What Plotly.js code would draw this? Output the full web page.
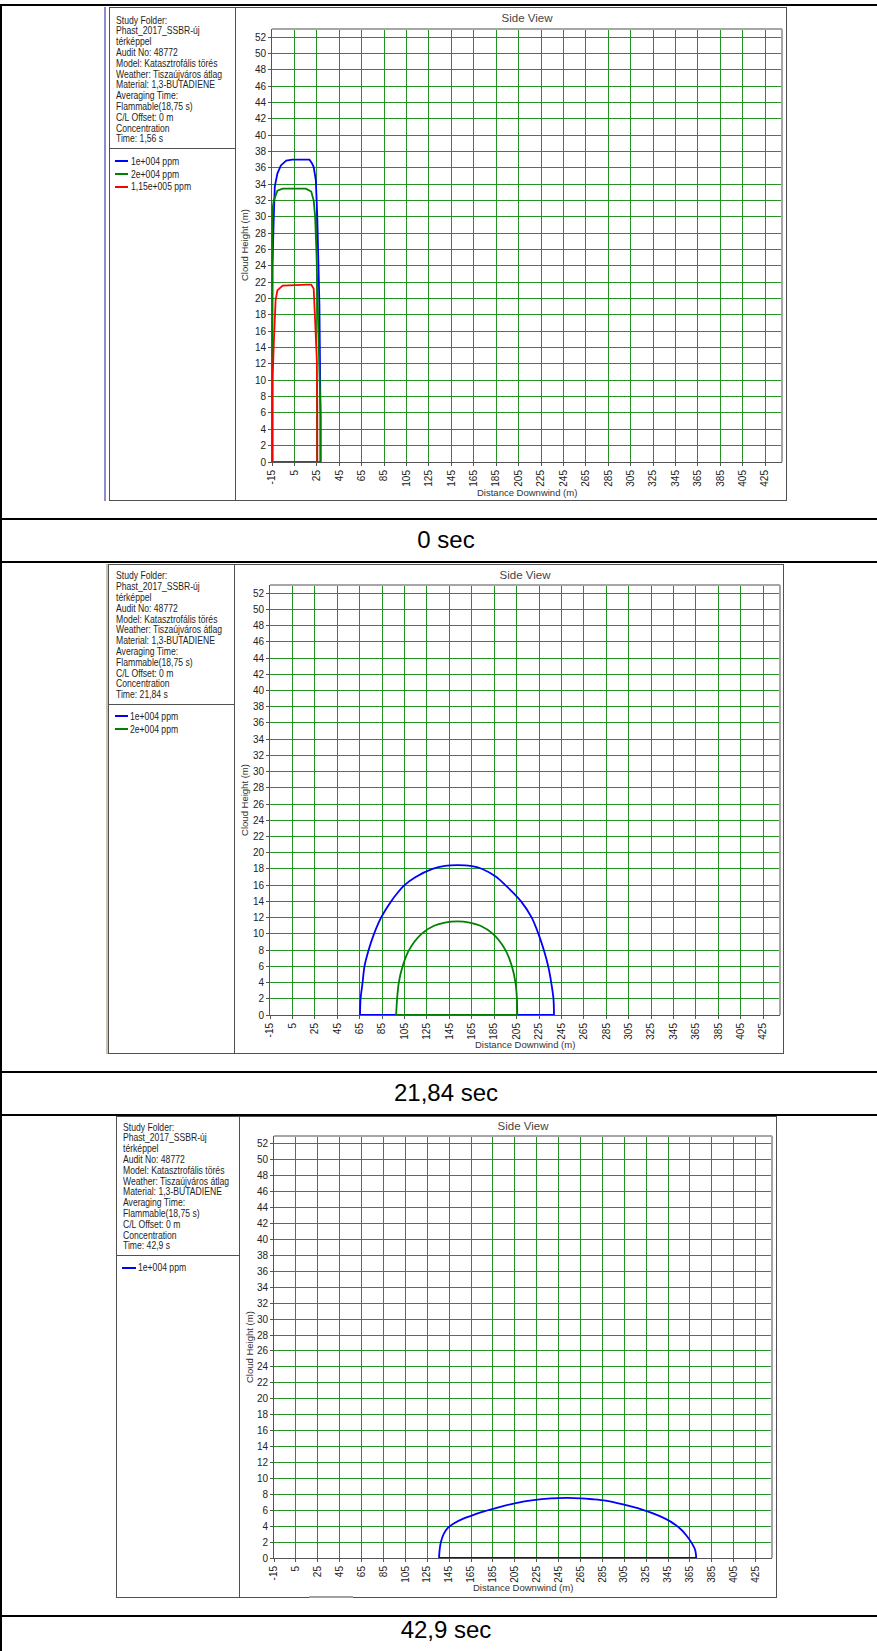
<!DOCTYPE html>
<html><head><meta charset="utf-8">
<script src="https://cdn.plot.ly/plotly-3.0.1.min.js"></script>
<style>
body{margin:0;background:#fff;}
#page{position:relative;width:877px;height:1651px;overflow:hidden;background:#fff;}
.abs{position:absolute;}
.info{position:absolute;font-family:"Liberation Sans",Arial,sans-serif;font-size:10.5px;line-height:10.8px;color:#1e1e1e;white-space:nowrap;transform:scaleX(0.82);transform-origin:0 50%;}
.cap{position:absolute;left:0;width:892px;text-align:center;font-family:"Liberation Sans",Arial,sans-serif;font-size:24px;line-height:28px;color:#000;}
</style></head>
<body><div id="page"></div>
<script>
// ---------------- DATA ----------------
const xTickVals = [-15,5,25,45,65,85,105,125,145,165,185,205,225,245,265,285,305,325,345,365,385,405,425];
const xTickText = ['-15','5','25','45','65','85','105','125','145','165','185','205','225','245','265','285','305','325','345','365','385','405','425'];
const yTickVals = [0,2,4,6,8,10,12,14,16,18,20,22,24,26,28,30,32,34,36,38,40,42,44,46,48,50,52];
const chartTitle = 'Side View';
const xAxisTitle = 'Distance Downwind (m)';
const yAxisTitle = 'Cloud Height (m)';
const infoLines = ['Study Folder:','Phast_2017_SSBR-új','térképpel','Audit No: 48772','Model: Katasztrofális törés','Weather: Tiszaújváros átlag','Material: 1,3-BUTADIENE','Averaging Time:','Flammable(18,75 s)','C/L Offset: 0 m','Concentration'];
const timeLabels = ['Time: 1,56 s','Time: 21,84 s','Time: 42,9 s'];
const captions = ['0 sec','21,84 sec','42,9 sec'];
const seriesNames = ['1e+004 ppm','2e+004 ppm','1,15e+005 ppm'];

// t = 1,56 s  (closed outlines)
const t1_1e4_x = [-15,-15,-14.6,-13.4,-12.5,-10.2,-7.1,-2.3,3,18.4,20.5,22.2,24.1,25.4,26.4,27.3,28.3,28.3,-15];
const t1_1e4_y = [0,19,24,30,33.7,35.3,36.3,36.9,37,37,36.6,36.1,34.5,30,24.7,19.2,5.5,0,0];
const t1_2e4_x = [-15,-15,-14.6,-13.4,-10.2,-5.5,15.2,20.0,22.2,23.5,24.8,26.1,27.0,28.3,28.3,-15];
const t1_2e4_y = [0,28.8,31,32.0,33.2,33.45,33.45,33.1,32.0,30,25.1,17.3,11.6,6,0,0];
const t1_115e5_x = [-14.4,-14.4,-13.4,-12.8,-11.8,-10.2,-5.5,16.2,20.0,22.2,23.3,24.1,25.0,25.4,25.4,-14.4];
const t1_115e5_y = [0,10.4,14.5,16.3,19.8,21.0,21.6,21.72,21.72,21.2,17.8,15.3,12.5,6.7,0,0];

// t = 21,84 s  (arch + ground line)
const t2_1e4_x = [65.3,65.8,67.6,69.3,73.0,77.8,84.1,93.0,98.5,105.0,115.0,130.0,141.0,152.1,164.0,174.4,187.0,195.0,202.5,209.0,218.5,224.5,229.3,233.2,235.9,237.9,238.4];
const t2_1e4_y = [0,2,4,6,8,10,12,14,15,16,17,18,18.38,18.47,18.38,18,17,16,15,14,12,10,8,6,4,2,0];
const t2_1e4_base_x = [65.3,238.4];
const t2_1e4_base_y = [0,0];
const t2_2e4_x = [97.5,98.4,99.9,103.3,109.0,120.2,131.3,141.0,152.1,163.0,172.8,183.9,195.1,200.8,204.0,205.3,205.6];
const t2_2e4_y = [0,2,4,6,8,10,11,11.4,11.55,11.4,11,10,8,6,4,2,0];
const t2_2e4_base_x = [97.5,205.6];
const t2_2e4_base_y = [0,0];

// t = 42,9 s
const t3_1e4_x = [135.8,136.3,137.5,140.0,144.0,150.0,158.0,165.0,177.0,190.0,206.0,222.0,238.0,252.0,265.0,276.0,288.0,304.0,320.0,337.0,347.0,356.0,362.0,367.0,369.8,370.8];
const t3_1e4_y = [0,1,2,3,3.8,4.4,4.95,5.3,5.85,6.35,6.9,7.27,7.48,7.55,7.5,7.38,7.2,6.72,6.15,5.3,4.6,3.7,2.8,1.8,1,0];
const t3_1e4_base_x = [135.8,370.8];
const t3_1e4_base_y = [0,0];

const seriesColors = ['#0000ff','#008000','#ff0000'];

// ---------------- LAYOUT (positions only) ----------------
const FONT = '"Liberation Sans",Arial,sans-serif';
const GRID = 'rgb(35,148,35)';
const panels = [
  {chart:{l:235,t:7,w:552,h:494,m:{l:37,r:5,t:22,b:39}}, titleOff:11.3, xTitleOff:30, yTitleOff:27.5,
   info:{l:109,t:7,w:127,h:494,div:148}, textLeft:116, text1:20, legend1:161.3,
   series:[[t1_1e4_x,t1_1e4_y,0,null],[t1_2e4_x,t1_2e4_y,1,null],[t1_115e5_x,t1_115e5_y,2,null]], cap:539.5},
  {chart:{l:234,t:564,w:550,h:490,m:{l:36,r:4,t:21,b:39}}, titleOff:11, xTitleOff:29.7, yTitleOff:26.1,
   info:{l:108,t:564,w:127,h:490,div:704.3}, textLeft:115.7, text1:575.7, legend1:716.3,
   series:[[t2_1e4_x,t2_1e4_y,0,[t2_1e4_base_x,t2_1e4_base_y]],[t2_2e4_x,t2_2e4_y,1,[t2_2e4_base_x,t2_2e4_base_y]]], cap:1093},
  {chart:{l:239,t:1116,w:538,h:482,m:{l:35,r:5,t:20,b:40}}, titleOff:9.5, xTitleOff:29.4, yTitleOff:25,
   info:{l:116,t:1116,w:124,h:482,div:1255.4}, textLeft:123.3, text1:1127, legend1:1267.5,
   series:[[t3_1e4_x,t3_1e4_y,0,[t3_1e4_base_x,t3_1e4_base_y]]], cap:1630}
];

const page = document.getElementById('page');
function rect(l,t,w,h,style){
  const d=document.createElement('div'); d.className='abs';
  d.style.left=l+'px'; d.style.top=t+'px'; d.style.width=w+'px'; d.style.height=h+'px';
  Object.assign(d.style,style||{}); page.appendChild(d); return d;
}

// table lines
[4.3,517.7,561,1071,1114,1615].forEach(y=>rect(0,y,877,2.2,{background:'#000'}));
rect(0,4,2,1647,{background:'#000'});

// decorative side lines
rect(103.5,7,2,494,{background:'#8c8cd6'});
rect(106.3,564,1.6,490,{background:'#c9c1b2'});

panels.forEach((p,pi)=>{
  const ib=p.info;
  rect(ib.l,ib.t,ib.w,ib.h,{border:'1px solid #505050',boxSizing:'border-box'});
  rect(ib.l,ib.div,ib.w,1,{background:'#505050'});
  const lines = infoLines.concat([timeLabels[pi]]);
  lines.forEach((s,i)=>{
    const d=document.createElement('div'); d.className='info';
    d.style.left=p.textLeft+'px'; d.style.top=(p.text1+i*10.8-5.4)+'px';
    d.textContent=s; page.appendChild(d);
  });
  p.series.forEach((s,i)=>{
    const cy=p.legend1+i*12.7;
    rect(p.textLeft-1,cy-1,13.3,2,{background:seriesColors[s[2]]});
    const d=document.createElement('div'); d.className='info';
    d.style.left=(p.textLeft+14.7)+'px'; d.style.top=(cy-5.4)+'px';
    d.textContent=seriesNames[s[2]]; page.appendChild(d);
  });
  const c=p.chart;
  const cd=rect(c.l,c.t,c.w,c.h,{});
  rect(c.l,c.t,c.w,c.h,{border:'1px solid #505050',boxSizing:'border-box',pointerEvents:'none',zIndex:5});
  const traces=[];
  p.series.forEach(s=>{
    const col=seriesColors[s[2]];
    if(s[3]){
      traces.push({x:s[3][0],y:s[3][1],type:'scatter',mode:'lines',line:{color:col,width:1.8},hoverinfo:'skip',cliponaxis:false,showlegend:false});
      traces.push({x:s[0],y:s[1],type:'scatter',mode:'lines',line:{color:col,width:1.8,shape:'spline',smoothing:0.8},hoverinfo:'skip',cliponaxis:false,showlegend:false});
    } else {
      traces.push({x:s[0],y:s[1],type:'scatter',mode:'lines',line:{color:col,width:1.8},hoverinfo:'skip',cliponaxis:false,showlegend:false});
    }
  });
  const axisCommon = {showgrid:true,gridcolor:GRID,gridwidth:1,showline:true,linecolor:'#555',linewidth:1,
    ticks:'outside',ticklen:3,tickcolor:'#555',zeroline:false,layer:'below traces',fixedrange:true,
    tickfont:{family:FONT,size:10,color:'#222'}};
  const layout = {
    width:c.w,height:c.h,margin:{l:c.m.l,r:c.m.r,t:c.m.t,b:c.m.b,pad:0},
    paper_bgcolor:'rgba(0,0,0,0)',plot_bgcolor:'#fff',showlegend:false,
    font:{family:FONT,size:10,color:'#333'},
    title:{text:chartTitle,font:{family:FONT,size:11.5,color:'#444'},x:0.5,xref:'paper',xanchor:'center',
      y:1-p.titleOff/c.h,yref:'container',yanchor:'middle'},
    xaxis:Object.assign({range:[-15,440],tickmode:'array',tickvals:xTickVals,ticktext:xTickText,tickangle:-90},axisCommon),
    yaxis:Object.assign({range:[0,53],tickmode:'array',tickvals:yTickVals,ticktext:yTickVals.map(String)},axisCommon),
    shapes:[
      {type:'line',xref:'paper',yref:'paper',x0:0,x1:1,y0:1,y1:1,line:{color:'#a6a6a6',width:2}},
      {type:'line',xref:'paper',yref:'paper',x0:1,x1:1,y0:0,y1:1,line:{color:'#a6a6a6',width:2}}
    ],
    annotations:[
      {text:xAxisTitle,xref:'paper',yref:'paper',x:0.5,y:0,yshift:-p.xTitleOff,xanchor:'center',yanchor:'middle',showarrow:false,font:{family:FONT,size:9.5,color:'#333'}},
      {text:yAxisTitle,xref:'paper',yref:'paper',x:0,xshift:-p.yTitleOff,y:0.5,textangle:-90,xanchor:'center',yanchor:'middle',showarrow:false,font:{family:FONT,size:9.5,color:'#333'}}
    ]
  };
  Plotly.newPlot(cd,traces,layout,{staticPlot:true,displayModeBar:false});
  const cap=document.createElement('div'); cap.className='cap';
  cap.style.top=(p.cap-14)+'px'; cap.textContent=captions[pi]; page.appendChild(cap);
});
rect(309,1596,44,2,{background:'#a0a0a0',zIndex:6});
</script>
</body></html>
